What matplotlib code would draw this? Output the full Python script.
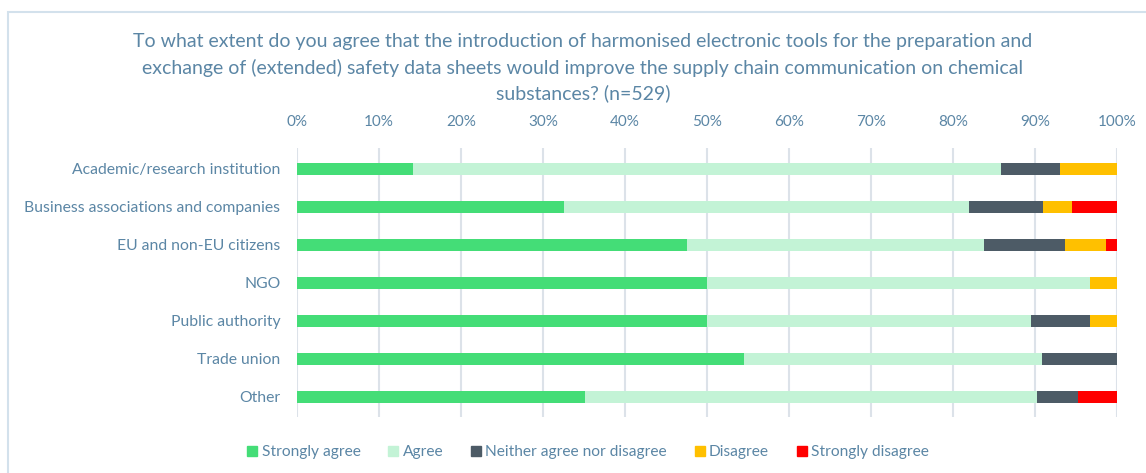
#!/usr/bin/env python3
# Stacked horizontal bars: agreement on harmonised electronic SDS tools, by stakeholder group.

import matplotlib.pyplot as plt
from matplotlib.patches import Rectangle
from matplotlib.lines import Line2D
import numpy as np

plt.rcParams.update({
    "font.family": ["Lato", "DejaVu Sans"],
    "figure.dpi": 100,
})

TEXT = "#5B86A5"
GRID = "#DCE2E9"

groups = [
    "Academic/research institution",
    "Business associations and companies",
    "EU and non-EU citizens",
    "NGO",
    "Public authority",
    "Trade union",
    "Other",
]
answers = ["Strongly agree", "Agree", "Neither agree nor disagree",
           "Disagree", "Strongly disagree"]
colors = ["#44DD77", "#C3F3D6", "#4D5B66", "#FFC000", "#FF0000"]

# percentages per group, in answer order
strongly_agree = [14.2, 32.5, 47.6, 50.0, 50.0, 54.5, 35.1]
agree = [71.7, 49.5, 36.2, 46.7, 39.5, 36.4, 55.2]
neither = [7.2, 9.0, 9.8, 0.0, 7.2, 9.1, 4.9]
disagree = [6.9, 3.5, 5.0, 3.3, 3.3, 0.0, 0.0]
strongly_disagree = [0.0, 5.5, 1.4, 0.0, 0.0, 0.0, 4.8]

series = [strongly_agree, agree, neither, disagree, strongly_disagree]
xticks = [0, 10, 20, 30, 40, 50, 60, 70, 80, 90, 100]

title_lines = [
    "To what extent do you agree that the introduction of harmonised electronic tools for the preparation and",
    "exchange of (extended) safety data sheets would improve the supply chain communication on chemical",
    "substances? (n=529)",
]
title_y = [42, 68, 93]  # pixel rows of the three title lines

fig = plt.figure(figsize=(11.46, 4.73))
ax = fig.add_axes([297 / 1146, 1 - 417 / 473, 820 / 1146, 269 / 473])

# light frame around the chart
fig.add_artist(Rectangle((8 / 1146, -0.1), 1.2, 1.1 - 12 / 473,
                         transform=fig.transFigure, fill=False,
                         edgecolor="#D3E1EC", linewidth=1.5))

y = np.arange(len(groups))
left = np.zeros(len(groups))
for vals, col, name in zip(series, colors, answers):
    vals = np.array(vals)
    ax.barh(y, vals, left=left, height=0.31, color=col, label=name, zorder=3)
    left += vals

ax.set_xlim(0, 100)
ax.set_ylim(len(groups) - 1 + 0.53, -0.55)
ax.set_xticks(xticks)
ax.set_xticklabels([f"{t}%" for t in xticks])
ax.xaxis.tick_top()
ax.set_yticks(y)
ax.set_yticklabels(groups)
ax.tick_params(axis="x", length=0, colors=TEXT, labelsize=11, pad=14)
ax.tick_params(axis="y", length=0, colors=TEXT, labelsize=11.3, pad=12)
ax.grid(axis="x", color=GRID, linewidth=1.5, zorder=0)
for s in ax.spines.values():
    s.set_visible(False)

for line, ty in zip(title_lines, title_y):
    fig.text(0.5087, 1 - ty / 473, line, ha="center", va="center",
             color=TEXT, fontsize=14)

handles = [Line2D([], [], marker="s", linestyle="", markersize=7,
                  markerfacecolor=c, markeredgecolor=c, label=n)
           for c, n in zip(colors, answers)]
fig.legend(handles=handles, loc="center", bbox_to_anchor=(0.512, 1 - 452 / 473),
           ncol=5, frameon=False, fontsize=11.2, labelcolor=TEXT,
           handletextpad=0.1, columnspacing=1.6, handlelength=1.0)

fig.savefig("out.png", dpi=100)
